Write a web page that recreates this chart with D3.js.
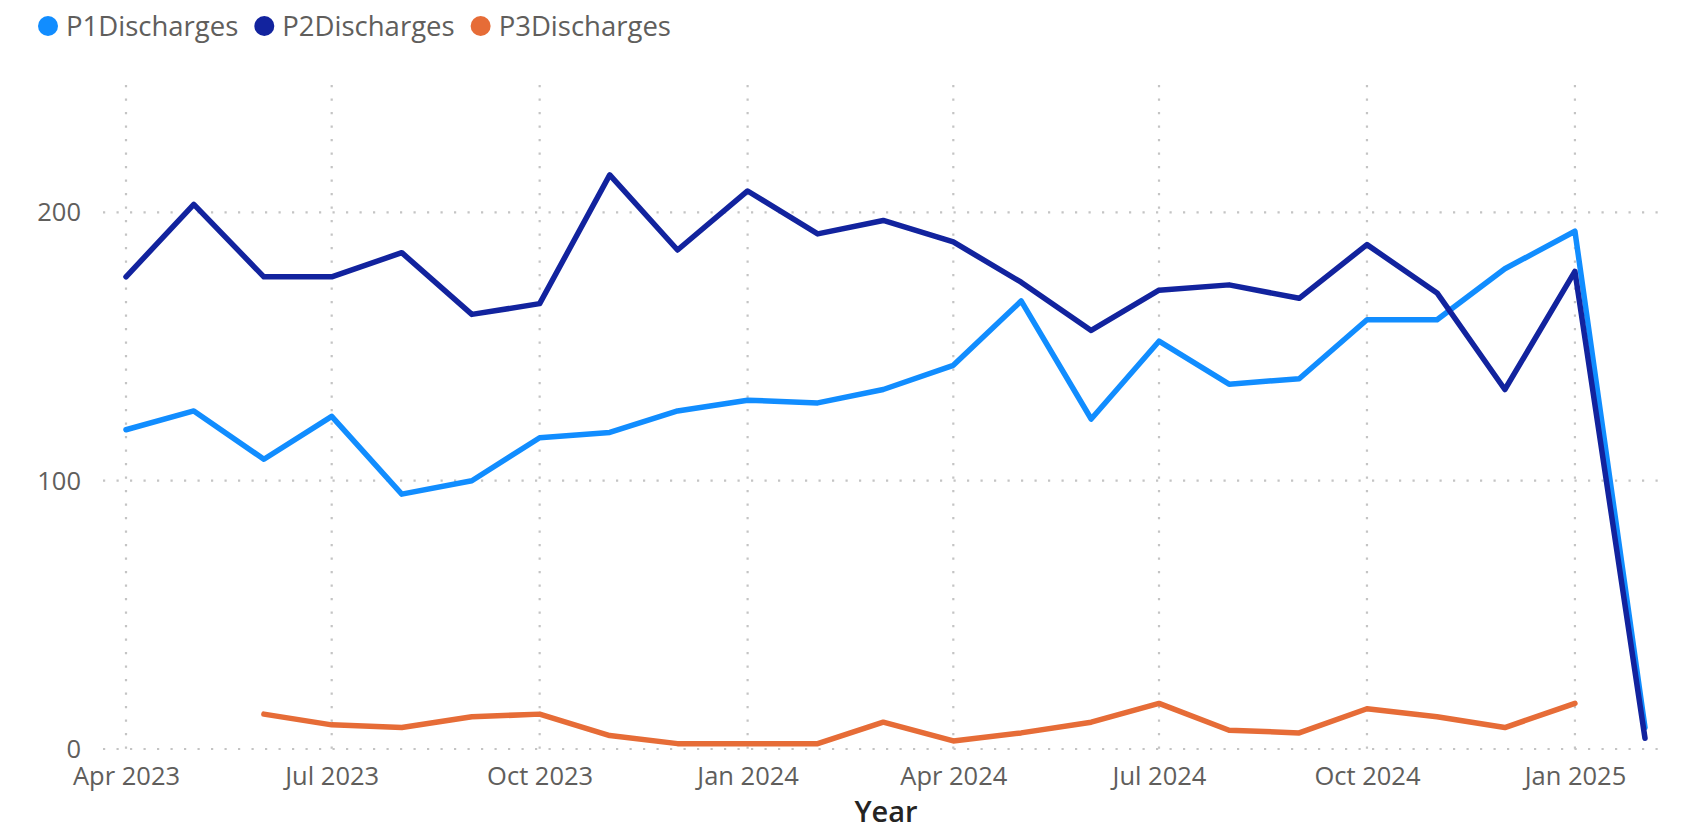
<!DOCTYPE html>
<html>
<head>
<meta charset="utf-8">
<script src="https://cdn.jsdelivr.net/npm/d3@7"></script>
<style>
  body { margin: 0; background: #fff; }
  svg text { font-family: "Segoe UI", "Open Sans", sans-serif; }
</style>
</head>
<body>
<svg id="chart" width="1687" height="832"></svg>
<script>
'use strict';

// monthly discharges by priority
var months = ['2023-04','2023-05','2023-06','2023-07','2023-08','2023-09','2023-10','2023-11','2023-12',
              '2024-01','2024-02','2024-03','2024-04','2024-05','2024-06','2024-07','2024-08','2024-09',
              '2024-10','2024-11','2024-12','2025-01','2025-02']
var p1 = [119,126,108,124,95,100,116,118,126,130,129,134,143,167,123,152,136,138,160,160,179,193,8]
var p2 = [176,203,176,176,185,162,166,214,186,208,192,197,189,174,156,171,173,168,188,170,134,178,4]
var p3 = [null,null,13,9,8,12,13,5,2,2,2,10,3,6,10,17,7,6,15,12,8,17,null]
var yTicks = [0, 100, 200]

var seriesNames = ['P1Discharges', 'P2Discharges', 'P3Discharges']
var colors = ['#118DFF', '#12239E', '#E66C37']

var parse = d3.timeParse('%Y-%m')
var dates = months.map(parse)
var series = [p1, p2, p3].map(function(vals, i) {
  return {name: seriesNames[i], color: colors[i],
          points: vals.map(function(v, j) { return {date: dates[j], value: v} })}
})

var svg = d3.select('#chart')

var x = d3.scaleTime()
  .domain([dates[0], dates[dates.length - 1]])
  .range([126, 1645])
var y = d3.scaleLinear()
  .domain([0, 247.5])
  .range([749, 85])

var gridLeft = 103, gridRight = 1660

// horizontal dotted grid
svg.append('g').selectAll('line').data(yTicks)
  .enter().append('line')
  .attr('x1', gridLeft).attr('x2', gridRight)
  .attr('y1', function(d) { return y(d) }).attr('y2', function(d) { return y(d) })
  .attr('stroke', '#c4c4c4').attr('stroke-width', 2.2)
  .attr('stroke-dasharray', '2.2,11.3')

// vertical dotted grid at quarter ticks
var xTicks = x.ticks(d3.timeMonth.every(3))
svg.append('g').selectAll('line').data(xTicks)
  .enter().append('line')
  .attr('x1', function(d) { return x(d) }).attr('x2', function(d) { return x(d) })
  .attr('y1', y.range()[1]).attr('y2', y(0))
  .attr('stroke', '#c4c4c4').attr('stroke-width', 2.2)
  .attr('stroke-dasharray', '2.2,11.3')

// x axis labels
var xAxis = d3.axisBottom(x).tickValues(xTicks).tickFormat(d3.timeFormat('%b %Y')).tickSize(0).tickPadding(0)
var gx = svg.append('g').attr('transform', 'translate(0,785)').call(xAxis)
gx.select('.domain').remove()
gx.selectAll('text')
  .attr('dy', 0).attr('y', 0)
  .attr('fill', '#605E5C').style('font-size', '25.5px')

// y axis labels
var yAxis = d3.axisLeft(y).tickValues(yTicks).tickSize(0).tickPadding(0)
var gy = svg.append('g').attr('transform', 'translate(81,0)').call(yAxis)
gy.select('.domain').remove()
gy.selectAll('text')
  .attr('dy', '0.33em')
  .attr('fill', '#605E5C').style('font-size', '25.5px')

// axis title
svg.append('text')
  .attr('x', 886).attr('y', 822)
  .attr('text-anchor', 'middle')
  .attr('fill', '#252423')
  .style('font-size', '29px').style('font-weight', 600)
  .text('Year')

// lines
var line = d3.line()
  .defined(function(d) { return d.value !== null })
  .x(function(d) { return x(d.date) })
  .y(function(d) { return y(d.value) })

svg.append('g').selectAll('path').data(series)
  .enter().append('path')
  .attr('d', function(d) { return line(d.points) })
  .attr('fill', 'none')
  .attr('stroke', function(d) { return d.color })
  .attr('stroke-width', 5.5)
  .attr('stroke-linejoin', 'round')
  .attr('stroke-linecap', 'round')

// legend
var legend = svg.append('g')
var lx = 48
series.forEach(function(s) {
  legend.append('circle').attr('cx', lx).attr('cy', 26).attr('r', 10).attr('fill', s.color)
  var t = legend.append('text')
    .attr('x', lx + 18).attr('y', 26).attr('dy', '0.35em')
    .attr('fill', '#605E5C').style('font-size', '27.5px')
    .text(s.name)
  lx = lx + 18 + t.node().getComputedTextLength() + 26
})
</script>
</body>
</html>
